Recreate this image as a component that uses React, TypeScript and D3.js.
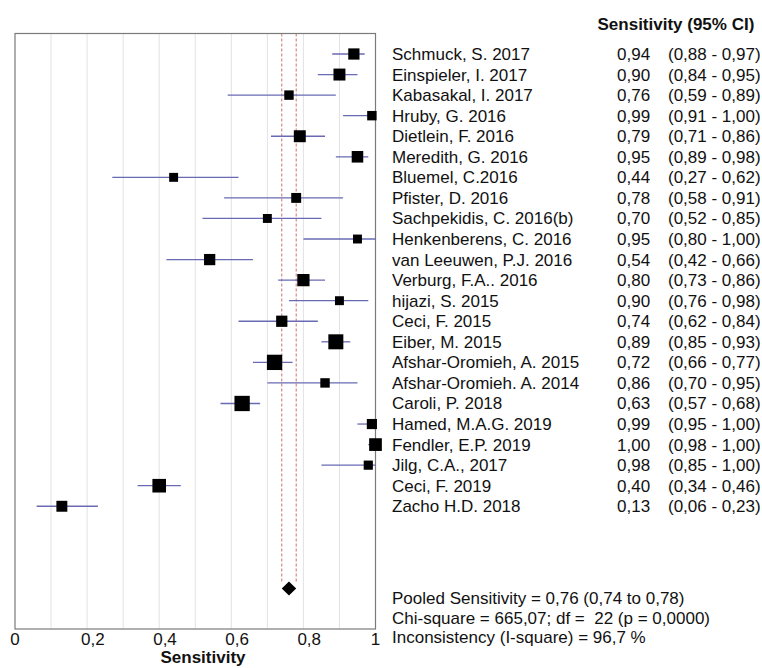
import React from 'react';
import * as d3 from 'd3';

const studies = [
  'Schmuck, S. 2017', 'Einspieler, I. 2017', 'Kabasakal, I. 2017', 'Hruby, G. 2016',
  'Dietlein, F. 2016', 'Meredith, G. 2016', 'Bluemel, C.2016', 'Pfister, D. 2016',
  'Sachpekidis, C. 2016(b)', 'Henkenberens, C. 2016', 'van Leeuwen, P.J. 2016',
  'Verburg, F.A.. 2016', 'hijazi, S. 2015', 'Ceci, F. 2015', 'Eiber, M. 2015',
  'Afshar-Oromieh, A. 2015', 'Afshar-Oromieh. A. 2014', 'Caroli, P. 2018',
  'Hamed, M.A.G. 2019', 'Fendler, E.P. 2019', 'Jilg, C.A., 2017', 'Ceci, F. 2019',
  'Zacho H.D. 2018',
];
const sensitivity = [0.94, 0.90, 0.76, 0.99, 0.79, 0.95, 0.44, 0.78, 0.70, 0.95, 0.54, 0.80, 0.90, 0.74, 0.89, 0.72, 0.86, 0.63, 0.99, 1.00, 0.98, 0.40, 0.13];
const lower = [0.88, 0.84, 0.59, 0.91, 0.71, 0.89, 0.27, 0.58, 0.52, 0.80, 0.42, 0.73, 0.76, 0.62, 0.85, 0.66, 0.70, 0.57, 0.95, 0.98, 0.85, 0.34, 0.06];
const upper = [0.97, 0.95, 0.89, 1.00, 0.86, 0.98, 0.62, 0.91, 0.85, 1.00, 0.66, 0.86, 0.98, 0.84, 0.93, 0.77, 0.95, 0.68, 1.00, 1.00, 1.00, 0.46, 0.23];
const weights = [54, 61, 38, 38, 61, 57, 34, 42, 34, 34, 54, 64, 34, 54, 96, 100, 38, 100, 44, 69, 36, 79, 51];

const pooled = 0.76;
const pooledLower = 0.74;
const pooledUpper = 0.78;

const xTicks = [0, 0.2, 0.4, 0.6, 0.8, 1];
const gridTicks = [0.1, 0.2, 0.3, 0.4, 0.5, 0.6, 0.7, 0.8, 0.9];

const headerText = 'Sensitivity (95% CI)';
const axisTitle = 'Sensitivity';
const statsLines = [
  'Pooled Sensitivity = 0,76 (0,74 to 0,78)',
  'Chi-square = 665,07; df =  22 (p = 0,0000)',
  'Inconsistency (I-square) = 96,7 %',
];

const locale = d3.formatLocale({ decimal: ',', thousands: '.', grouping: [3], currency: ['', ''] });
const fmt2 = locale.format('.2f');
const fmtTick = locale.format('~g');

const FONT = '"Liberation Sans", Arial, sans-serif';

export default function App() {
  const W = 762, H = 668;
  const x = d3.scaleLinear().domain([0, 1]).range([15, 375.5]);
  const y = d3.scaleLinear().domain([0, 26]).range([54, 588.5]);
  const size = d3.scaleSqrt().domain([0, 100]).range([0, 15.3]);
  const top = 33.5, bottom = 629;
  const diamondH = 7;
  const pooledRow = 26;
  const py = y(pooledRow);

  return (
    <svg width={W} height={H} style={{ position: 'absolute', left: 0, top: 0, background: '#fff' }} fontFamily={FONT}>
      <rect x={0} y={0} width={W} height={H} fill="#fff" />
      {/* gridlines */}
      {gridTicks.map((t) => (
        <line key={t} x1={x(t)} x2={x(t)} y1={top} y2={bottom} stroke="#e2e2e2" strokeWidth={1} />
      ))}
      {/* pooled CI dashed lines */}
      {[pooledLower, pooledUpper].map((v) => (
        <line key={v} x1={x(v)} x2={x(v)} y1={top} y2={py - diamondH} stroke="#cc7070" strokeWidth={1} strokeDasharray="3,2" />
      ))}
      {/* box */}
      <rect x={x(0)} y={top} width={x(1) - x(0)} height={bottom - top} fill="none" stroke="#7a7a7a" strokeWidth={1.2} />
      {/* CI lines */}
      {studies.map((s, i) => (
        <line key={'ci' + i} x1={x(lower[i])} x2={x(upper[i])} y1={y(i)} y2={y(i)} stroke="#6a6ab4" strokeWidth={1.3} />
      ))}
      {/* squares */}
      {studies.map((s, i) => {
        const sz = size(weights[i]);
        return <rect key={'sq' + i} x={x(sensitivity[i]) - sz / 2} y={y(i) - sz / 2} width={sz} height={sz} fill="#000" />;
      })}
      {/* diamond */}
      <polygon
        points={`${x(pooledLower)},${py} ${x(pooled)},${py - diamondH} ${x(pooledUpper)},${py} ${x(pooled)},${py + diamondH}`}
        fill="#000"
      />
      {/* x tick labels */}
      {xTicks.map((t) => {
        const label = fmtTick(t);
        const isInt = Number.isInteger(t);
        return (
          <text key={'xt' + t} x={isInt ? x(t) : x(t) - 6} y={645} fontSize={17} textAnchor={isInt ? 'middle' : 'start'} fill="#111">
            {label}
          </text>
        );
      })}
      <text x={203} y={663} fontSize={17} fontWeight="bold" textAnchor="middle" fill="#111">{axisTitle}</text>
      {/* header */}
      <text x={597.5} y={30} fontSize={17} fontWeight="bold" fill="#111">{headerText}</text>
      {/* study rows */}
      {studies.map((s, i) => (
        <g key={'t' + i} fontSize={17} fill="#111">
          <text x={392} y={y(i) + 6}>{s}</text>
          <text x={617} y={y(i) + 6}>{fmt2(sensitivity[i])}</text>
          <text x={668} y={y(i) + 6}>{`(${fmt2(lower[i])} - ${fmt2(upper[i])})`}</text>
        </g>
      ))}
      {/* stats */}
      {statsLines.map((s, i) => (
        <text key={'st' + i} x={392} y={604 + i * 19.5} fontSize={17} fill="#111" style={{ whiteSpace: 'pre' }}>{s}</text>
      ))}
    </svg>
  );
}
